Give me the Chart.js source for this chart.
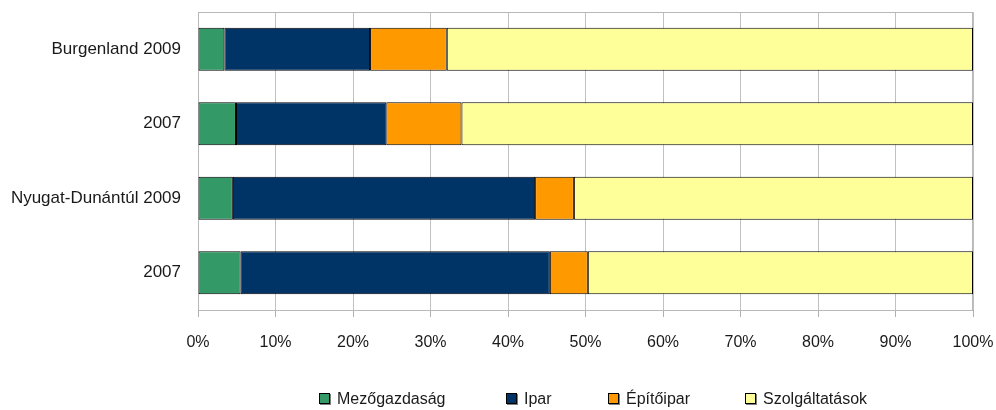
<!DOCTYPE html>
<html>
<head>
<meta charset="utf-8">
<script src="https://cdn.jsdelivr.net/npm/chart.js@4"></script>
<style>
  html, body { margin: 0; padding: 0; background: #fff; }
  #wrap { width: 996px; height: 410px; position: relative; }
</style>
</head>
<body>
<div id="wrap"><canvas id="c" width="996" height="410"></canvas></div>
<script>
const categories = ["Burgenland 2009", "2007", "Nyugat-Dunántúl 2009", "2007"];
const seriesNames = ["Mezőgazdaság", "Ipar", "Építőipar", "Szolgáltatások"];
const mezogazdasag = [3.4, 4.9, 4.5, 5.5];
const ipar = [18.8, 19.4, 39.0, 39.9];
const epitoipar = [9.9, 9.7, 5.0, 4.9];
const szolgaltatasok = [67.9, 66.0, 51.5, 49.7];
const xTicks = [0, 10, 20, 30, 40, 50, 60, 70, 80, 90, 100];

const colors = ["#339966", "#003366", "#FF9900", "#FFFF99"];
const seriesValues = [mezogazdasag, ipar, epitoipar, szolgaltatasok];
const FONT = "'Liberation Sans', Arial, sans-serif";

const legendPos = [319, 506, 608, 745];

function zeroPad(s) {
  s.paddingTop = 0; s.paddingBottom = 0; s.paddingLeft = 0; s.paddingRight = 0;
}

const frame = {
  id: 'frame',
  beforeDatasetsDraw(chart) {
    const a = chart.chartArea, ctx = chart.ctx;
    ctx.save();
    ctx.strokeStyle = '#b8b8b8';
    ctx.lineWidth = 1;
    ctx.strokeRect(Math.round(a.left) + 0.5, Math.round(a.top) + 0.5,
                   Math.round(a.right - a.left) - 1, Math.round(a.bottom - a.top));
    ctx.restore();
  },
  afterDraw(chart) {
    const ctx = chart.ctx;
    ctx.save();
    ctx.font = "16px " + FONT;
    ctx.textBaseline = 'middle';
    ctx.textAlign = 'left';
    chart.data.datasets.forEach((ds, i) => {
      const x = legendPos[i];
      const y = 393;
      ctx.fillStyle = '#808080';
      ctx.fillRect(x + 1, y + 1, 11, 11);
      ctx.fillStyle = ds.backgroundColor;
      ctx.fillRect(x, y, 11, 11);
      ctx.strokeStyle = '#000';
      ctx.lineWidth = 1;
      ctx.strokeRect(x + 0.5, y + 0.5, 10, 10);
      ctx.fillStyle = '#1a1a1a';
      ctx.fillText(ds.label, x + 18, 400);
    });
    ctx.restore();
  }
};

new Chart(document.getElementById('c'), {
  type: 'bar',
  data: {
    labels: categories,
    datasets: seriesNames.map((name, i) => ({
      label: name,
      data: seriesValues[i],
      backgroundColor: colors[i],
      borderColor: '#000',
      borderWidth: 1,
      borderSkipped: false,
      categoryPercentage: 1,
      barPercentage: 0.58
    }))
  },
  options: {
    indexAxis: 'y',
    responsive: false,
    animation: false,
    layout: { padding: { top: 12, right: 23, bottom: 60, left: 0 } },
    plugins: { legend: { display: false }, tooltip: { enabled: false } },
    scales: {
      x: {
        stacked: true,
        min: 0, max: 100,
        afterFit(s) { s.height = 40; zeroPad(s); },
        afterBuildTicks(s) { s.ticks = xTicks.map(v => ({ value: v })); },
        grid: { color: '#c0c0c0', lineWidth: 1, drawTicks: true, tickLength: 7, tickColor: '#b0b0b0' },
        border: { display: true, color: '#b0b0b0' },
        ticks: {
          padding: 16,
          color: '#1a1a1a',
          font: { family: FONT, size: 16 },
          callback: v => v + '%'
        }
      },
      y: {
        stacked: true,
        afterFit(s) { s.width = 198; zeroPad(s); },
        grid: { display: false, drawTicks: false },
        border: { display: true, color: '#b0b0b0' },
        ticks: {
          padding: 17,
          color: '#1a1a1a',
          font: { family: FONT, size: 17 }
        }
      }
    }
  },
  plugins: [frame]
});
</script>
</body>
</html>
